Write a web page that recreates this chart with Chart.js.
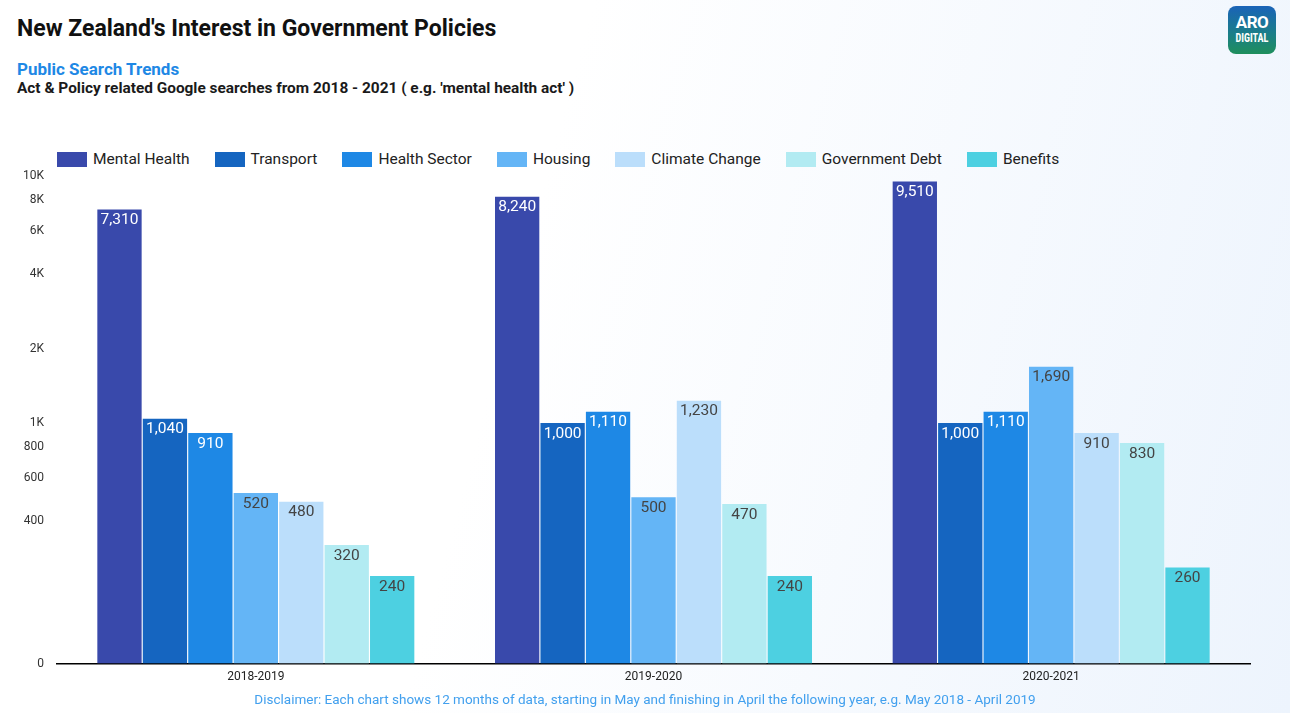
<!DOCTYPE html>
<html>
<head>
<meta charset="utf-8">
<script src="https://cdn.jsdelivr.net/npm/chart.js@4.4.1/dist/chart.umd.min.js"></script>
<style>
  html, body { margin: 0; padding: 0; }
  body {
    width: 1290px; height: 713px; overflow: hidden; position: relative;
    font-family: Roboto, "Noto Sans", Arial, sans-serif;
    background: linear-gradient(105deg, #ffffff 40%, #edf4fd 100%);
  }
  #title { position: absolute; left: 17px; top: 15px; font-size: 23px; font-weight: 700; color: #111; }
  #sub1 { position: absolute; left: 17px; top: 59px; font-size: 17px; font-weight: 700; color: #1E88E5; }
  #sub2 { position: absolute; left: 17px; top: 79px; font-size: 15.4px; font-weight: 700; color: #1a1a1a; }
  #legend { position: absolute; left: 57px; top: 150px; display: flex; align-items: center; font-size: 15.5px; color: #222; }
  .item { display: flex; align-items: center; margin-right: 25px; }
  .box { width: 30px; height: 15px; margin-right: 6px; }
  #disclaimer { position: absolute; left: 0; width: 1290px; top: 691px; text-align: center; font-size: 13.5px; color: #42A0EE; }
  #logo { position: absolute; left: 1228px; top: 6px; width: 48px; height: 48px; border-radius: 8px;
    background: linear-gradient(180deg, #1a63b8 0%, #1b7f86 60%, #1f8f5c 100%);
    color: #fff; text-align: center; font-weight: 700; }
  #logo .a { font-size: 17px; line-height: 17px; margin-top: 8px; letter-spacing: -0.5px; }
  #logo .b { font-size: 12px; line-height: 14px; font-family: "Roboto Condensed", "Liberation Sans Narrow", Roboto, sans-serif; transform: scaleX(0.85); }
  #wrap { position: absolute; left: 0; top: 0; width: 1290px; height: 713px; }
</style>
</head>
<body>
<div id="title">New Zealand's Interest in Government Policies</div>
<div id="sub1">Public Search Trends</div>
<div id="sub2">Act &amp; Policy related Google searches from 2018 - 2021 ( e.g. 'mental health act' )</div>
<div id="logo"><div class="a">ARO</div><div class="b">DIGITAL</div></div>
<div id="legend"></div>
<div id="wrap"><canvas id="c" width="1290" height="713"></canvas></div>
<div id="disclaimer">Disclaimer: Each chart shows 12 months of data, starting in May and finishing in April the following year, e.g. May 2018 - April 2019</div>
<script>
const categories = ['2018-2019', '2019-2020', '2020-2021'];
const seriesNames = ['Mental Health', 'Transport', 'Health Sector', 'Housing', 'Climate Change', 'Government Debt', 'Benefits'];
const mentalHealth   = [7310, 8240, 9510];
const transport      = [1040, 1000, 1000];
const healthSector   = [910, 1110, 1110];
const housing        = [520, 500, 1690];
const climateChange  = [480, 1230, 910];
const governmentDebt = [320, 470, 830];
const benefits       = [240, 240, 260];
const seriesColors = ['#3949AB', '#1565C0', '#1E88E5', '#64B5F6', '#BBDEFB', '#B2EBF2', '#4DD0E1'];
const labelColors  = ['#ffffff', '#ffffff', '#ffffff', '#444444', '#444444', '#444444', '#444444'];
const yAxisMin = 106;
const yAxisMax = 10000;
const yTickValues = [106, 400, 600, 800, 1000, 2000, 4000, 6000, 8000, 10000];
const yTickLabels = ['0', '400', '600', '800', '1K', '2K', '4K', '6K', '8K', '10K'];

const seriesValues = [mentalHealth, transport, healthSector, housing, climateChange, governmentDebt, benefits];

// HTML legend
const legend = document.getElementById('legend');
seriesNames.forEach((n, i) => {
  const it = document.createElement('div'); it.className = 'item';
  const b = document.createElement('div'); b.className = 'box'; b.style.background = seriesColors[i];
  const t = document.createElement('span'); t.textContent = n;
  it.appendChild(b); it.appendChild(t); legend.appendChild(it);
});

const valueLabels = {
  id: 'valueLabels',
  afterDatasetsDraw(chart) {
    const ctx = chart.ctx;
    ctx.save();
    ctx.font = '15.5px Roboto, "Noto Sans", sans-serif';
    ctx.textAlign = 'center';
    ctx.textBaseline = 'top';
    chart.data.datasets.forEach((ds, di) => {
      const meta = chart.getDatasetMeta(di);
      meta.data.forEach((bar, i) => {
        ctx.fillStyle = labelColors[di];
        ctx.fillText(ds.data[i].toLocaleString('en-US'), bar.x, bar.y + 3);
      });
    });
    ctx.restore();
  }
};

new Chart(document.getElementById('c'), {
  type: 'bar',
  data: {
    labels: categories,
    datasets: seriesNames.map((n, i) => ({
      label: n,
      data: seriesValues[i],
      backgroundColor: seriesColors[i],
      categoryPercentage: 0.8,
      barPercentage: 0.975,
      borderWidth: 0
    }))
  },
  options: {
    responsive: false,
    animation: false,
    layout: { padding: { left: 12, right: 40, top: 176, bottom: 23 } },
    plugins: { legend: { display: false }, tooltip: { enabled: false } },
    scales: {
      x: {
        grid: { display: false, drawTicks: false },
        border: { display: true, color: '#000', width: 1.5 },
        ticks: { color: '#222', font: { size: 12, family: 'Roboto' }, padding: 6 }
      },
      y: {
        type: 'logarithmic',
        min: yAxisMin,
        max: yAxisMax,
        grid: { display: false, drawTicks: false },
        border: { display: false },
        afterFit(scale) { scale.width = 45; },
        afterBuildTicks(scale) { scale.ticks = yTickValues.map(v => ({ value: v })); },
        ticks: {
          color: '#333', font: { size: 12, family: 'Roboto' }, padding: 13,
          callback(value, index) { return yTickLabels[index]; }
        }
      }
    }
  },
  plugins: [valueLabels]
});
</script>
</body>
</html>
